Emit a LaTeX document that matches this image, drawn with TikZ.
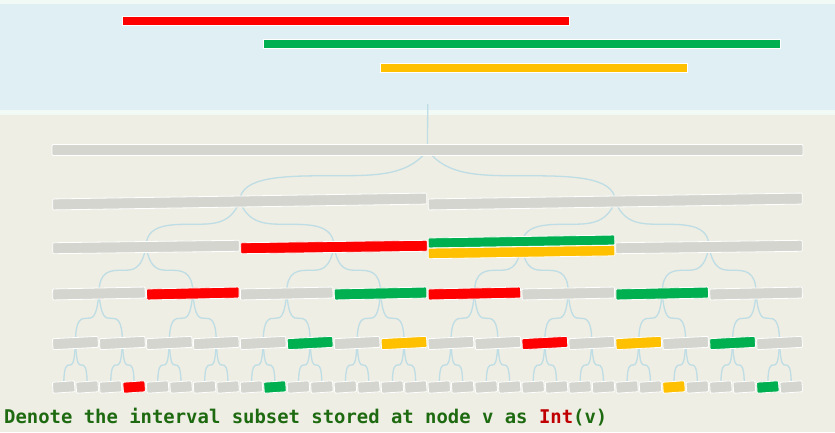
\documentclass[tikz,border=0pt]{standalone}
\usepackage{fontspec}
\newfontfamily\monob{DejaVu Sans Mono}
\usetikzlibrary{calc}
\definecolor{bgbeige}{HTML}{EEEEE5}
\definecolor{bandblue}{HTML}{DFEFF3}
\definecolor{stripc}{HTML}{F2FAF6}
\definecolor{barg}{HTML}{D5D5CF}
\definecolor{barr}{HTML}{FF0000}
\definecolor{barG}{HTML}{00B050}
\definecolor{barY}{HTML}{FFC000}
\definecolor{connc}{HTML}{BEDDE4}
\definecolor{txtg}{HTML}{1E6A10}
\definecolor{txtr}{HTML}{C00000}
\pgfdeclarelayer{bg}
\pgfsetlayers{bg,main}
\tikzset{
  bar/.style={rectangle, draw=white, line width=0.8pt, rounded corners=1pt, inner sep=0pt, outer sep=0pt, minimum height=11pt},
  topbar/.style={rectangle, draw=white, line width=0.6pt, inner sep=0pt, outer sep=0pt, minimum height=9pt},
  conn/.style={draw=connc, line width=1.3pt},
}
\newcommand\linkbar[2]{%
  \path (#1.center) -- (#2.center) coordinate[pos=0.5] (mm);
  \path (#1.center |- mm) coordinate (pa) (#2.center |- mm) coordinate (ca);
  \draw[conn] (#1.center) .. controls ($(pa)!0.2!(mm)$) and ($(pa)!0.55!(mm)$) .. (mm)
     .. controls ($(mm)!0.5!(ca)$) and (ca) .. (#2.center);
}
\begin{document}
\begin{tikzpicture}[x=1pt,y=-1pt]
\useasboundingbox (0,0) rectangle (835,432);
\begin{pgfonlayer}{bg}
  \fill[bgbeige] (0,0) rectangle (835,432);
  \fill[stripc] (0,0) rectangle (835,114.5);
  \fill[bandblue] (0,4) rectangle (835,109.7);
\end{pgfonlayer}
% top intervals
\node[topbar, fill=barr, minimum width=447pt] (ivr) at (345.5,21) {};
\node[topbar, fill=barG, minimum width=517pt] (ivg) at (521.5,44) {};
\node[topbar, fill=barY, minimum width=307pt] (ivy) at (533.5,68) {};
\coordinate (top) at (427.7,104);
% level 0
\node[bar, fill=barg, minimum width=751pt] (L0-1) at (427.5,150) {};
% level 1
\foreach \i in {1,2} {
  \pgfmathsetmacro\xx{52+375.5*(\i-0.5)}
  \node[bar, fill=barg, minimum width=374pt, rotate=0.9] (L1-\i) at (\xx,201.5) {};
}
% level 2
\node[bar, fill=barg, minimum width=186.5pt, rotate=0.75] (L2-1) at (146,247) {};
\node[bar, fill=barr, minimum width=186.5pt, rotate=0.75] (L2-2) at (334,247) {};
\coordinate (L2-3) at (521.5,247);
\node[bar, fill=barG, minimum width=186.5pt, minimum height=10pt, rotate=0.9] (L2-3g) at (521.5,241.5) {};
\node[bar, fill=barY, minimum width=186.5pt, minimum height=10.5pt, rotate=0.9] (L2-3y) at (521.5,252) {};
\node[bar, fill=barg, minimum width=186.5pt, rotate=0.75] (L2-4) at (709,247) {};
% level 3
\foreach \c [count=\i] in {barg,barr,barg,barG,barr,barg,barG,barg} {
  \pgfmathsetmacro\xx{52+93.875*(\i-0.5)}
  \node[bar, fill=\c, minimum width=92.5pt, rotate=1.2] (L3-\i) at (\xx,293.5) {};
}
% level 4
\foreach \c [count=\i] in {barg,barg,barg,barg,barg,barG,barg,barY,barg,barg,barr,barg,barY,barg,barG,barg} {
  \pgfmathsetmacro\xx{52+46.9375*(\i-0.5)}
  \node[bar, fill=\c, minimum width=45.5pt, rotate=3] (L4-\i) at (\xx,343) {};
}
% level 5
\foreach \c [count=\i] in {barg,barg,barg,barr,barg,barg,barg,barg,barg,barG,barg,barg,barg,barg,barg,barg,barg,barg,barg,barg,barg,barg,barg,barg,barg,barg,barY,barg,barg,barg,barG,barg} {
  \pgfmathsetmacro\xx{52+23.46875*(\i-0.5)}
  \node[bar, fill=\c, minimum width=22pt, rotate=4] (L5-\i) at (\xx,387) {};
}
% connectors
\begin{pgfonlayer}{bg}
  \draw[conn] (top) -- (L0-1.center);
  \linkbar{L0-1}{L1-1}
  \linkbar{L0-1}{L1-2}
  \foreach \i in {1,2} {
    \pgfmathtruncatemacro\a{2*\i-1}
    \pgfmathtruncatemacro\b{2*\i}
    \linkbar{L1-\i}{L2-\a}
    \linkbar{L1-\i}{L2-\b}
  }
  \foreach \i in {1,...,4} {
    \pgfmathtruncatemacro\a{2*\i-1}
    \pgfmathtruncatemacro\b{2*\i}
    \linkbar{L2-\i}{L3-\a}
    \linkbar{L2-\i}{L3-\b}
  }
  \foreach \i in {1,...,8} {
    \pgfmathtruncatemacro\a{2*\i-1}
    \pgfmathtruncatemacro\b{2*\i}
    \linkbar{L3-\i}{L4-\a}
    \linkbar{L3-\i}{L4-\b}
  }
  \foreach \i in {1,...,16} {
    \pgfmathtruncatemacro\a{2*\i-1}
    \pgfmathtruncatemacro\b{2*\i}
    \linkbar{L4-\i}{L5-\a}
    \linkbar{L4-\i}{L5-\b}
  }
\end{pgfonlayer}
\node[anchor=base west, inner sep=0pt, text=txtg, font=\monob\bfseries\fontsize{18.9}{22}\selectfont] (caption) at (4,423) {Denote the interval subset stored at node v as \textcolor{txtr}{Int}(v)};
\end{tikzpicture}
\end{document}
